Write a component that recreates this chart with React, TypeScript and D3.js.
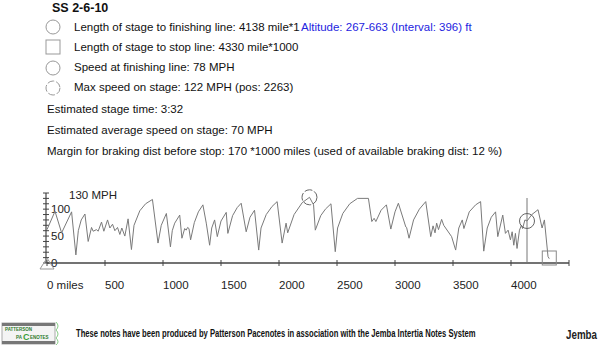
import { useLayoutEffect, useRef, useState } from "react";
import { scaleLinear, line } from "d3";

// speed profile (distance in miles*1000 units, speed in MPH)
const distance = [
  0, 69, 126, 212, 249, 270, 295, 327, 355, 384, 398, 427, 441, 470, 490, 522, 542, 565, 585, 608,
  628, 645, 671, 699, 728, 750, 800, 850, 909, 957, 985, 1029, 1064, 1080, 1101, 1144, 1163, 1187,
  1200, 1212, 1224, 1238, 1270, 1305, 1344, 1373, 1402, 1420, 1445, 1468, 1500, 1545, 1559, 1600,
  1640, 1674, 1717, 1750, 1789, 1825, 1845, 1890, 1940, 1984, 2027, 2061, 2075, 2130, 2200, 2263,
  2298, 2313, 2360, 2400, 2448, 2485, 2505, 2550, 2610, 2677, 2771, 2800, 2820, 2835, 2880, 2926,
  2964, 3000, 3029, 3093, 3100, 3121, 3160, 3210, 3265, 3308, 3328, 3345, 3359, 3375, 3402, 3420,
  3488, 3523, 3550, 3580, 3594, 3640, 3695, 3738, 3765, 3795, 3830, 3867, 3886, 3929, 3952, 3975,
  3995, 4010, 4024, 4038, 4052, 4073, 4090, 4100, 4120, 4138, 4180, 4233, 4268, 4288, 4319, 4330,
];
const speed = [
  62, 96, 56, 95, 15, 60, 80, 91, 40, 66, 59, 62, 59, 76, 59, 80, 65, 72, 60, 66,
  53, 65, 50, 82, 25, 70, 97, 110, 118, 37, 70, 92, 30, 60, 74, 89, 46, 64,
  61, 66, 64, 43, 75, 95, 108, 74, 33, 65, 80, 49, 78, 94, 55, 88,
  103, 111, 58, 85, 98, 24, 65, 90, 105, 114, 37, 74, 56, 90, 112, 122,
  108, 61, 88, 100, 110, 21, 65, 92, 110, 120, 120, 77, 83, 77, 98, 108,
  63, 95, 111, 67, 66, 46, 80, 100, 114, 49, 69, 56, 74, 62, 81, 70,
  49, 24, 65, 80, 64, 95, 108, 114, 22, 65, 85, 95, 49, 89, 55, 61,
  43, 58, 33, 55, 27, 61, 70, 64, 80, 78, 90, 99, 65, 80, 12, 8,
];

const xTicks = [0, 500, 1000, 1500, 2000, 2500, 3000, 3500, 4000, 4500];
const xLabels = ["0 miles", "500", "1000", "1500", "2000", "2500", "3000", "3500", "4000"];
const yTicks = [0, 10, 20, 30, 40, 50, 60, 70, 80, 90, 100, 110, 120, 130];
const yLabels = [0, 50, 100];

const finishDist = 4138;
const finishSpeed = 78;
const stopDist = 4330;
const maxPos = 2263;
const maxSpeed = 122;

const title = "SS 2-6-10";
// first line is hidden behind the altitude text after "mile*1" in the original
const legendLines = [
  "Length of stage to finishing line: 4138 mile*1",
  "Length of stage to stop line: 4330 mile*1000",
  "Speed at finishing line: 78 MPH",
  "Max speed on stage: 122 MPH (pos: 2263)",
];
const infoLines = [
  "Estimated stage time: 3:32",
  "Estimated average speed on stage: 70 MPH",
  "Margin for braking dist before stop: 170 *1000 miles (used of available braking dist: 12 %)",
];
const altitudeText = "Altitude: 267-663 (Interval: 396) ft";
const footerText =
  "These notes have been produced by Patterson Pacenotes in association with the Jemba Intertia Notes System";

const W = 600;
const H = 351;
const font = "'Liberation Sans', Arial, sans-serif";

export default function App() {
  const footerRef = useRef<SVGTextElement>(null);
  const jembaRef = useRef<SVGTextElement>(null);
  const [footerScale, setFooterScale] = useState(0.72);
  const [jembaScale, setJembaScale] = useState(0.9);

  // squeeze the narrow bold footer texts horizontally to the widths in the picture
  useLayoutEffect(() => {
    if (footerRef.current) setFooterScale(400 / footerRef.current.getComputedTextLength());
    if (jembaRef.current) setJembaScale(31 / jembaRef.current.getComputedTextLength());
  }, []);

  const x = scaleLinear().domain([0, 4500]).range([47, 569]);
  const y = scaleLinear().domain([0, 130]).range([263, 193]);

  const pts = distance.map((d, i) => [d, speed[i]] as [number, number]);
  const path = line<[number, number]>()
    .x((d) => x(d[0]))
    .y((d) => y(d[1]))(pts);

  const legendY = [31, 51, 71, 91];
  const infoY = [113, 134, 155];
  const iconStroke = "#999";

  return (
    <svg width={W} height={H} style={{ position: "absolute", left: 0, top: 0 }} fontFamily={font}>
      <rect width={W} height={H} fill="#fff" />

      <text x={52} y={12} fontSize={12.5} fontWeight="bold" fill="#111">{title}</text>

      {/* legend icons */}
      <circle cx={53} cy={27} r={7} fill="#fff" stroke={iconStroke} />
      <rect x={46} y={40} width={14} height={14} fill="#fff" stroke={iconStroke} />
      <circle cx={53} cy={68} r={7} fill="#fff" stroke={iconStroke} />
      <circle cx={53} cy={88} r={7} fill="#fff" stroke={iconStroke} strokeDasharray="7 2" />

      {legendLines.map((t, i) => (
        <text key={t} x={74} y={legendY[i]} fontSize={11.5} fill="#111">{t}</text>
      ))}
      {infoLines.map((t, i) => (
        <text key={t} x={47} y={infoY[i]} fontSize={11.5} fill="#111">{t}</text>
      ))}

      <text x={301} y={31} fontSize={11.5} fill="#2424e0">{altitudeText}</text>

      {/* y axis */}
      <line x1={46} x2={46} y1={y(130)} y2={y(0)} stroke="#444" strokeWidth={1.2} />
      {yTicks.map((t) => (
        <line key={t} x1={43} x2={49} y1={y(t)} y2={y(t)} stroke="#444" />
      ))}
      {yLabels.map((t) => (
        <text key={t} x={51} y={y(t) + 4} fontSize={11.5} fill="#222">{t}</text>
      ))}
      <text x={69} y={199} fontSize={11.5} fill="#222">130 MPH</text>

      {/* x axis */}
      <line x1={x(0)} x2={x(4500)} y1={y(0)} y2={y(0)} stroke="#444" strokeWidth={1.3} />
      {xTicks.map((t) => (
        <line key={t} x1={x(t)} x2={x(t)} y1={y(0) - 3} y2={y(0) + 3} stroke="#444" />
      ))}
      {xLabels.map((t, i) => (
        <text key={t} x={x(xTicks[i])} y={289} fontSize={11.5} fill="#222">{t}</text>
      ))}

      {/* start triangle */}
      <path d={`M${x(0) - 7},${y(0) + 6} L${x(0)},${y(0) - 5} L${x(0) + 7},${y(0) + 6} Z`} fill="none" stroke={iconStroke} />

      {/* speed trace */}
      <path d={path ?? ""} fill="none" stroke="#7a7a7a" strokeWidth={1} />

      {/* finishing line */}
      <line x1={x(finishDist)} x2={x(finishDist)} y1={198} y2={y(0)} stroke="#777" />
      <circle cx={x(finishDist)} cy={y(finishSpeed)} r={7.5} fill="none" stroke="#666" />

      {/* max speed marker */}
      <circle cx={x(maxPos)} cy={y(maxSpeed)} r={7.5} fill="none" stroke="#666" strokeDasharray="8 2" />

      {/* stop line marker */}
      <rect x={x(stopDist) - 7} y={y(0) - 12} width={14} height={14} fill="none" stroke="#888" />

      {/* footer: Patterson Pacenotes logo */}
      <g>
        <rect x={2} y={323} width={53} height={21} fill="#f4f4f4" stroke="#aaa" />
        <rect x={2} y={323} width={53} height={3} fill="#777" />
        <rect x={2} y={341} width={53} height={3} fill="#777" />
        <text x={5} y={331} fontSize={4.5} fontWeight="bold" fill="#2a7a2a">PATTERSON</text>
        <text x={16} y={339} fontSize={4.5} fontWeight="bold" fill="#2a7a2a">PA</text>
        <text x={23} y={340} fontSize={9} fontWeight="bold" fill="#3aa03a">C</text>
        <text x={30} y={339} fontSize={4.5} fontWeight="bold" fill="#2a7a2a">ENOTES</text>
        <path d="M56,322 q4,4 0,8 q4,4 0,8 q4,4 0,7" fill="none" stroke="#8c8" />
      </g>
      <g transform={`translate(76,337) scale(${footerScale},1)`}>
        <text ref={footerRef} x={0} y={0} fontSize={11} fontWeight="bold" fill="#111">{footerText}</text>
      </g>

      {/* Jemba logo */}
      <g transform={`translate(566,339) scale(${jembaScale},1)`}>
        <text ref={jembaRef} x={0} y={0} fontSize={13} fontWeight="bold" fill="#222">Jemba</text>
      </g>
    </svg>
  );
}
